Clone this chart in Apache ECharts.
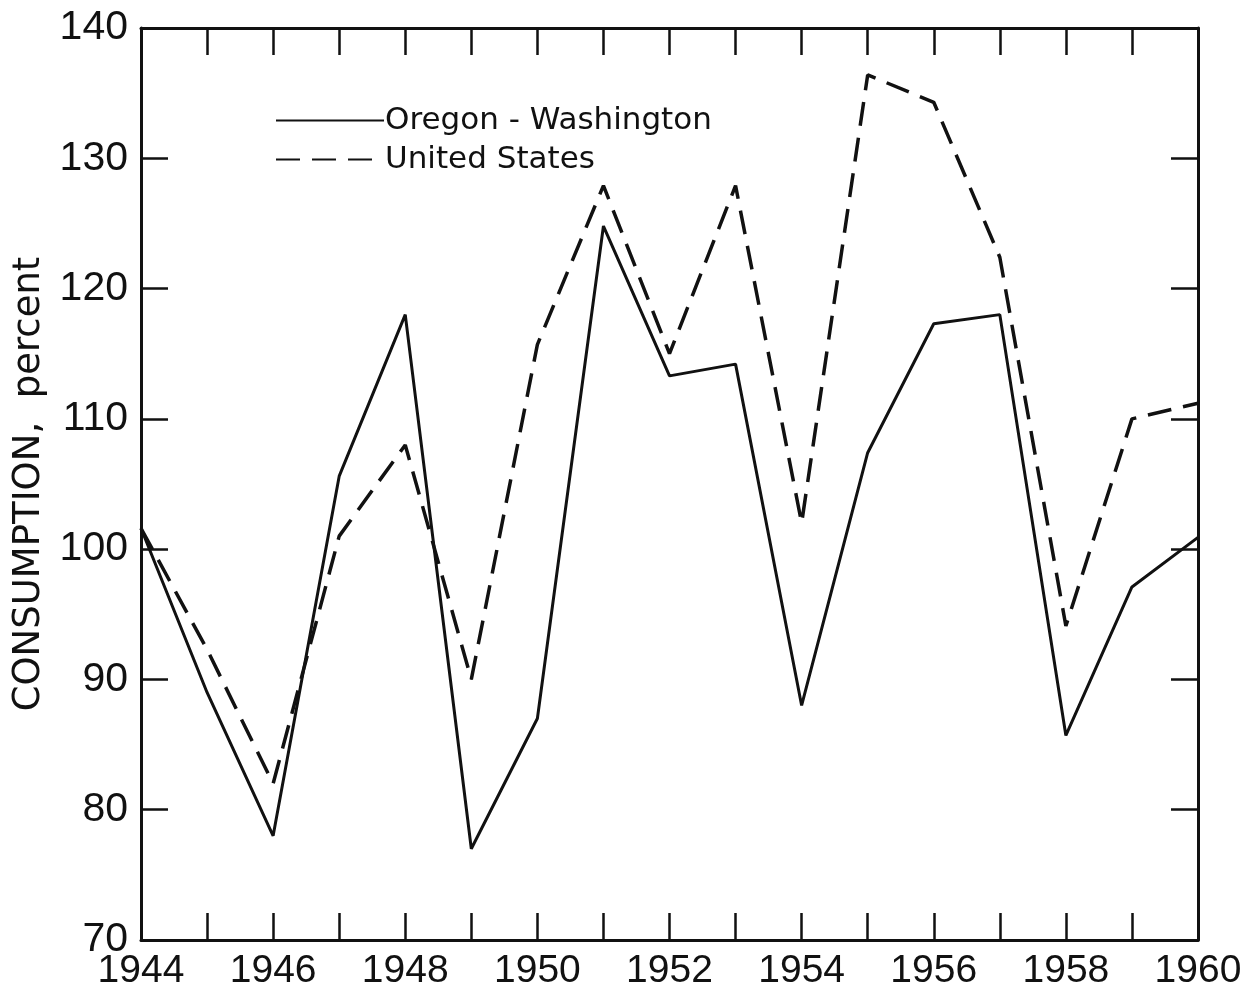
<!DOCTYPE html>
<html>
<head>
<meta charset="utf-8">
<script src="https://cdn.jsdelivr.net/npm/echarts@6/dist/echarts.min.js"></script>
<style>html,body{margin:0;padding:0;background:#fff;}#c{width:1249px;height:985px;}</style>
</head>
<body>
<div id="c"></div>
<script>
const years = [1944,1945,1946,1947,1948,1949,1950,1951,1952,1953,1954,1955,1956,1957,1958,1959,1960];
const oregonWashington = [101.6,89,78,105.6,118,77,87,124.8,113.3,114.2,88,107.4,117.3,118,85.7,97.1,100.9];
const unitedStates = [101.6,92.3,82,101,108,90,115.7,127.9,115,127.9,102,136.4,134.3,122.4,94.1,110,111.2];
const seriesNames = ['Oregon - Washington','United States'];
const yTitle = 'CONSUMPTION,  percent';

const font = 'Liberation Sans';
const font2 = 'DejaVu Sans';
const ink = '#111';
const chart = echarts.init(document.getElementById('c'), null, {renderer:'canvas'});
const axisLine = {show:true, lineStyle:{color:ink, width:3}};
const tick = {show:true, inside:true, length:27, lineStyle:{color:ink, width:2.5}};
chart.setOption({
  backgroundColor:'#fff',
  animation:false,
  grid:{left:141, right:51, top:28, bottom:45, containLabel:false, outerBoundsMode:'none'},
  legend:{
    orient:'vertical', left:270, top:100, itemWidth:108, itemHeight:14, itemGap:8,
    itemStyle:{opacity:0},
    textStyle:{fontFamily:font2, fontSize:31, color:ink, padding:[0,0,0,-4]},
    data:seriesNames
  },
  xAxis:[{
    type:'value', min:1944, max:1960, interval:1, position:'bottom',
    axisLine:axisLine, axisTick:tick, splitLine:{show:false},
    axisLabel:{margin:12, fontFamily:font, fontSize:39, color:ink,
      formatter:v => (v % 2 === 0 ? String(v) : '')}
  },{
    type:'value', min:1944, max:1960, interval:1, position:'top',
    axisLine:axisLine, axisTick:tick, splitLine:{show:false}, axisLabel:{show:false}
  }],
  yAxis:[{
    type:'value', min:70, max:140, interval:10, position:'left',
    axisLine:axisLine, axisTick:tick, splitLine:{show:false},
    axisLabel:{margin:13, fontFamily:font, fontSize:41, color:ink},
    name:yTitle, nameLocation:'middle', nameGap:93,
    nameTextStyle:{fontFamily:font2, fontSize:37, color:ink}
  },{
    type:'value', min:70, max:140, interval:10, position:'right',
    axisLine:axisLine, axisTick:tick, splitLine:{show:false}, axisLabel:{show:false}
  }],
  series:[{
    name:seriesNames[0], type:'line', symbol:'none',
    data:years.map((y,i)=>[y, oregonWashington[i]]),
    lineStyle:{color:ink, width:3, type:'solid'}, itemStyle:{color:ink}
  },{
    name:seriesNames[1], type:'line', symbol:'none',
    data:years.map((y,i)=>[y, unitedStates[i]]),
    lineStyle:{color:ink, width:3.5, type:[24,12]}, itemStyle:{color:ink}
  }]
});
</script>
</body>
</html>
